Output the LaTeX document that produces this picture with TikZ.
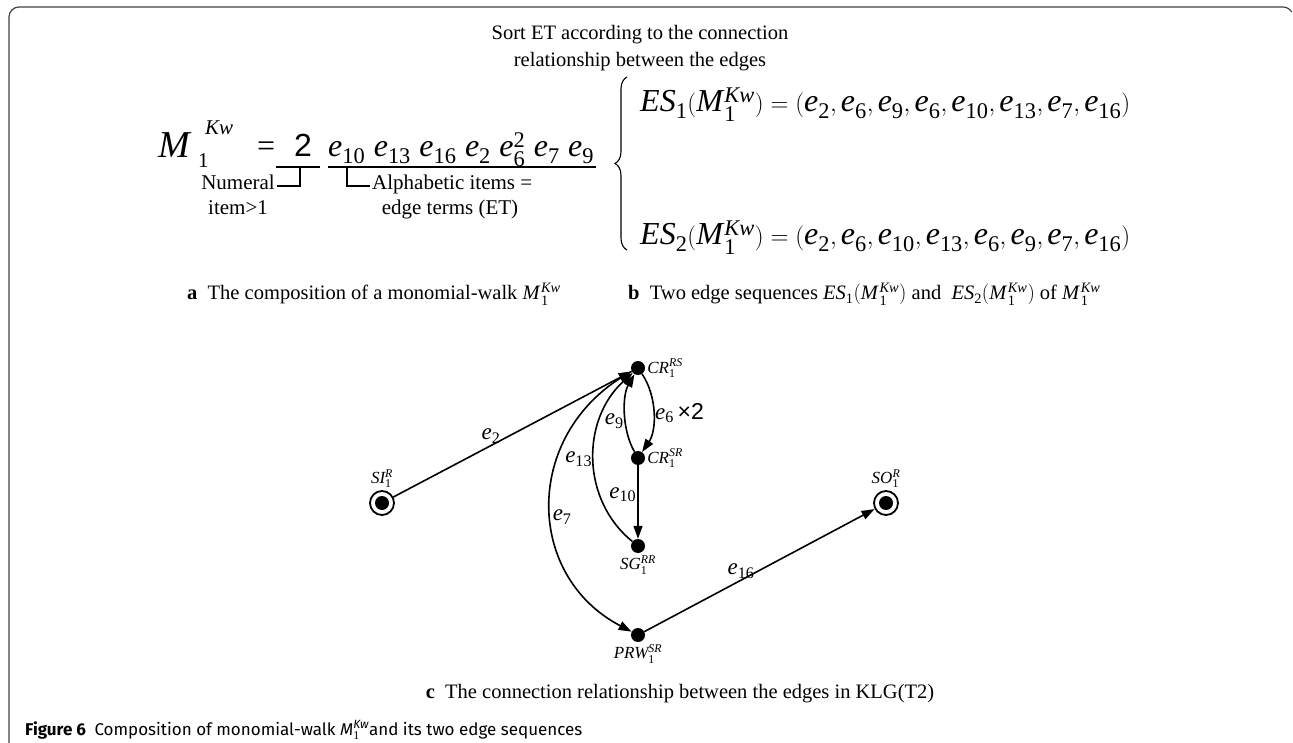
\documentclass[tikz,border=0pt]{standalone}
\usepackage{amsmath}
\usepackage{fontspec}
\setmainfont{Liberation Serif}
\newfontfamily\figfont{Fira Sans}
\newfontfamily\sansnum{Liberation Sans}
\usetikzlibrary{arrows.meta,decorations.pathreplacing}

\newcommand{\vi}[1]{\textit{#1}}
\newcommand{\ee}[1]{\vi{e}_{\textrm{#1}}}
\newcommand{\mkw}{\vi{M}\kern1.5pt_{\textrm{1}}^{\vi{Kw}}}
\newcommand{\vname}[3]{$\vi{#1}_{\textrm{#2}}^{\vi{#3}}$}

\begin{document}
\begin{tikzpicture}[
        x=1pt, y=-1pt,
        dot/.style={circle, fill, inner sep=0pt, minimum size=14pt},
        ring/.style={circle, draw, line width=1.8pt, inner sep=0pt, minimum size=24pt},
        edge/.style={-{Triangle[length=13pt,width=9pt]}, line width=1.6pt},
        uline/.style={line width=1.3pt},
        vlab/.style={font=\fontsize{17}{19}\selectfont, inner sep=2pt},
        elab/.style={font=\fontsize{23}{25}\selectfont, inner sep=1pt},
        captxt/.style={font=\fontsize{20.5}{24}\selectfont, inner sep=0pt},
        note/.style={font=\fontsize{21}{24}\selectfont, inner sep=0pt},
        big/.style={font=\fontsize{32}{36}\selectfont, inner sep=0pt},
        bigsup/.style={font=\fontsize{21}{24}\selectfont, inner sep=0pt}
    ]
\useasboundingbox (0,0) rectangle (1293,743);
% frame
\draw[line width=1.2pt, black!75] (9,743) -- (9,17) arc[start angle=180, end angle=270, radius=10]
    -- (1283,7) arc[start angle=270, end angle=330, radius=10];

% (a) composition of the monomial-walk
\node[font=\fontsize{20.5}{27}\selectfont, align=center] (sorttxt) at (640,48) {Sort ET according to the connection\\relationship between the edges};
\node[big, font=\fontsize{38}{40}\selectfont, anchor=base west] (mm) at (158,158) {\vi{M}};
\node[bigsup, anchor=base west] (mkw) at (205,135) {\vi{Kw}};
\node[bigsup, anchor=base west] (mone) at (198,168) {1};
\node[big, anchor=base west] (eq) at (257,157) {=};
\node[big, anchor=base west] (two) at (294,157) {\sansnum 2};
\node[big, anchor=base west] (terms) at (328,157) {$\ee{10}\hspace{8.5pt}\ee{13}\hspace{8.5pt}\ee{16}\hspace{8.5pt}\ee{2}\hspace{8.5pt}\ee{6}^{\textrm{2}}\hspace{8.5pt}\ee{7}\hspace{8.5pt}\ee{9}$};
\coordinate (u2a) at (276,167);
\coordinate (u2b) at (320,167);
\coordinate (u2m) at (300,167);
\coordinate (uea) at (328,167);
\coordinate (ueb) at (596,167);
\coordinate (uem) at (347,167);
\draw[uline] (u2a) -- (u2b);
\draw[uline] (uea) -- (ueb);
\node[note, anchor=base east] (num) at (275,190) {Numeral};
\node[note, anchor=base] (item) at (238,215) {item>1};
\node[note, anchor=base west] (alpha) at (372,190) {Alphabetic items =};
\node[note, anchor=base] (edgeterms) at (450,215) {edge terms (ET)};
\draw[uline] (u2m) |- ([xshift=2pt, yshift=4pt]num.base east);
\draw[uline] (uem) |- ([xshift=-2pt, yshift=4pt]alpha.base west);

% (b) two edge sequences
\draw[line width=1.1pt, decorate, decoration={brace, amplitude=12pt}] (627,250) -- (627,77);
\node[big, anchor=base west] (es1) at (640,112) {$\vi{ES}_{\textrm{1}}(\mkw)=(\ee{2},\ee{6},\ee{9},\ee{6},\ee{10},\ee{13},\ee{7},\ee{16})$};
\node[big, anchor=base west] (es2) at (640,245) {$\vi{ES}_{\textrm{2}}(\mkw)=(\ee{2},\ee{6},\ee{10},\ee{13},\ee{6},\ee{9},\ee{7},\ee{16})$};

\node[captxt, anchor=base] (capa) at (374,300) {\textbf{a}\enspace The composition of a monomial-walk $\mkw$};
\node[captxt, anchor=base west] (capb) at (628,300) {\textbf{b}\enspace Two edge sequences $\vi{ES}_{\textrm{1}}(\mkw)$ and\enspace $\vi{ES}_{\textrm{2}}(\mkw)$ of $\mkw$};

% (c) connection relationship between the edges
\node[dot] (crrs) at (638,368) {};
\node[dot] (crsr) at (638,458) {};
\node[dot] (sg) at (638,546) {};
\node[dot] (prw) at (638,635) {};
\node[ring] (si) at (382,503) {};
\node[dot, minimum size=14pt] (si0) at (si) {};
\node[ring] (so) at (886,503) {};
\node[dot, minimum size=14pt] (so0) at (so) {};

\node[vlab, anchor=west] (crrsl) at (crrs.east) {\vname{CR}{1}{RS}};
\node[vlab, anchor=west] (crsrl) at (crsr.east) {\vname{CR}{1}{SR}};
\node[vlab, anchor=north] (sgl) at (sg.south) {\vname{SG}{1}{RR}};
\node[vlab, anchor=north] (prwl) at (prw.south) {\vname{PRW}{1}{SR}};
\node[vlab, anchor=south] (sil) at (si.north) {\vname{SI}{1}{R}};
\node[vlab, anchor=south] (sol) at (so.north) {\vname{SO}{1}{R}};

\draw[edge] (si) -- node[elab, above, pos=0.41] (le2) {$\ee{2}$} (crrs);
\draw[edge] (crrs) .. controls (657,396) and (657,430) .. node[elab, right] (le6) {$\ee{6}$\,{\sansnum ×2}} (crsr);
\draw[edge] (crsr) .. controls (622,430) and (622,396) .. node[elab, left, pos=0.4] (le9) {$\ee{9}$} (crrs);
\draw[edge] (crsr) -- node[elab, left, pos=0.4] (le10) {$\ee{10}$} (sg);
\draw[edge] (sg) .. controls (581,500) and (581,420) .. node[elab, left] (le13) {$\ee{13}$} (crrs);
\draw[edge] (crrs) .. controls (523,430) and (523,575) .. node[elab, right, pos=0.55] (le7) {$\ee{7}$} (prw);
\draw[edge] (prw) -- node[elab, above, pos=0.42] (le16) {$\ee{16}$} (so);

\node[captxt, anchor=base] (capc) at (680,698) {\textbf{c}\enspace The connection relationship between the edges in KLG(T2)};
\node[font=\figfont\fontsize{17}{20}\selectfont, anchor=base west, inner sep=0pt] (fig) at (25,735) {\textbf{Figure 6}\enspace Composition of monomial-walk \textit{M}$^{\textit{Kw}}_{\textrm{1}}$and its two edge sequences};
\end{tikzpicture}
\end{document}
